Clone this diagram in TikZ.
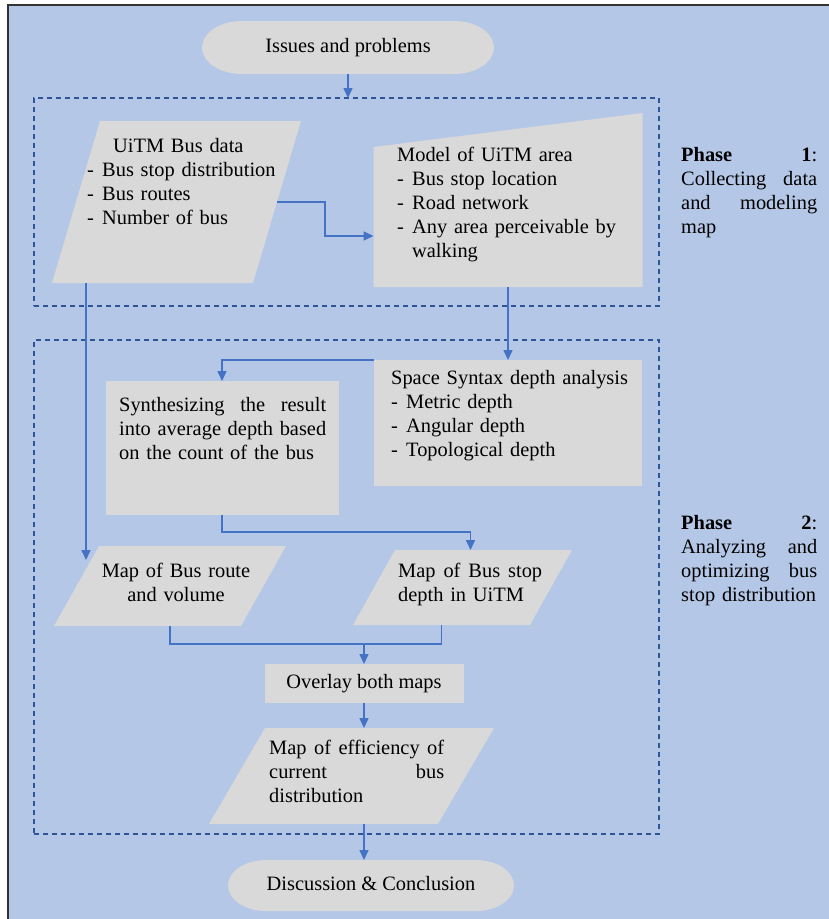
\documentclass[tikz,border=0pt]{standalone}
\usepackage{fontspec}
\setmainfont{Liberation Serif}
\usepackage{tikz}
\usetikzlibrary{calc,arrows.meta}
\pgfdeclarelayer{background}
\pgfsetlayers{background,main}

\definecolor{bgblue}{HTML}{B4C7E7}
\definecolor{boxgray}{HTML}{D9D9D9}
\definecolor{linkblue}{HTML}{4472C4}
\definecolor{frameblue}{HTML}{2F5597}

\newcommand{\fs}{\fontsize{20.4pt}{24pt}\selectfont\hyphenpenalty=10000}
\newcommand{\dashitem}[1]{\makebox[15pt][l]{-}#1}
\newcommand{\jline}[2]{\makebox[#1]{#2}}
\newcommand{\parafill}[2]{\fill[boxgray] ($(#1.north west)+(#2,0)$) -- (#1.north east) -- ($(#1.south east)+(-#2,0)$) -- (#1.south west) -- cycle;}
\newcommand{\termfill}[3]{\fill[boxgray] ($(#1.north west)+(#2,0)$) -- ($(#1.north east)+(-#2,0)$) arc[start angle=90,end angle=-90,x radius=#2pt,y radius=#3pt] -- ($(#1.south west)+(#2,0)$) arc[start angle=270,end angle=90,x radius=#2pt,y radius=#3pt] -- cycle;}

\begin{document}
\begin{tikzpicture}[x=1pt,y=-1pt,
  shapebox/.style={inner sep=0pt,outer sep=0pt},
  oneline/.style={font=\fs,text height=14.6pt,text depth=5.2pt},
  txt/.style={inner sep=0pt,anchor=base west,align=left,font=\fs},
  link/.style={draw=linkblue,line width=1.6pt},
  arr/.style={link,-{Triangle[length=10pt,width=9pt]}},
  phaseframe/.style={draw=frameblue,line width=1.1pt,dash pattern=on 5pt off 4pt,inner sep=0pt,outer sep=0pt}]
\useasboundingbox (0,0) rectangle (829,919);

% boxes
\node[shapebox,oneline,minimum width=292pt,minimum height=53pt] (issues) at (348,47.5) {Issues and problems};
\node[shapebox,minimum width=249pt,minimum height=162pt] (busdata) at (176.5,202) {};
\node[shapebox,minimum width=269pt,minimum height=174pt] (model) at (508,200) {};
\node[shapebox,minimum width=268pt,minimum height=126pt] (syntax) at (508,423) {};
\node[shapebox,minimum width=233pt,minimum height=134pt] (synth) at (222,448) {};
\node[shapebox,minimum width=232pt,minimum height=80pt] (route) at (170,586) {};
\node[shapebox,minimum width=219pt,minimum height=75pt] (depth) at (462.5,587.5) {};
\node[shapebox,oneline,minimum width=199pt,minimum height=39pt] (overlay) at (364,683.5) {Overlay both maps};
\node[shapebox,minimum width=285pt,minimum height=96pt] (effic) at (351.5,776) {};
\node[shapebox,oneline,minimum width=286pt,minimum height=51pt] (concl) at (371,885.5) {Discussion \& Conclusion};

\node[phaseframe,minimum width=625pt,minimum height=208pt] (phase1) at (346.5,202) {};
\node[phaseframe,minimum width=625pt,minimum height=494pt] (phase2) at (346.5,587) {};

% texts
\node[txt,text width=200pt] (busdatatxt) at (87,152) {\hspace*{26pt}UiTM Bus data\\\dashitem{Bus stop distribution}\\\dashitem{Bus routes}\\\dashitem{Number of bus}};
\node[txt,text width=230pt] (modeltxt) at (397,161) {Model of UiTM area\\\dashitem{Bus stop location}\\\dashitem{Road network}\\\dashitem{Any area perceivable by}\\\hspace*{15pt}walking};
\node[txt,text width=245pt] (syntaxtxt) at (391,384) {Space Syntax depth analysis\\\dashitem{Metric depth}\\\dashitem{Angular depth}\\\dashitem{Topological depth}};
\node[txt,text width=215pt] (synthtxt) at (119,411) {\jline{207pt}{Synthesizing\hfill the\hfill result}\\\jline{207pt}{into\hfill average\hfill depth\hfill based}\\on the count of the bus};
\node[txt,anchor=base,align=center,text width=170pt] (routetxt) at (176,577) {Map of Bus route\\and volume};
\node[txt,text width=160pt] (depthtxt) at (398,577) {\jline{144pt}{Map\hfill of\hfill Bus\hfill stop}\\depth in UiTM};
\node[txt,text width=185pt] (effictxt) at (269,754) {\jline{175pt}{Map\hfill of\hfill efficiency\hfill of}\\\jline{175pt}{current\hfill bus}\\distribution};
\node[txt,text width=146pt] (phase1txt) at (681,161) {\jline{136pt}{\textbf{Phase}\hfill\textbf{1}:}\\\jline{136pt}{Collecting\hfill data}\\\jline{136pt}{and\hfill modeling}\\map};
\node[txt,text width=146pt] (phase2txt) at (681,529) {\jline{136pt}{\textbf{Phase}\hfill\textbf{2}:}\\\jline{136pt}{Analyzing\hfill and}\\\jline{136pt}{optimizing\hfill bus}\\stop distribution};

\begin{pgfonlayer}{background}
\fill[white] (0,0) rectangle (829,919);
\fill[bgblue] (8,5) rectangle (829,919);
\draw[line width=1.5pt,black!80] (8,919) -- (8,5) -- (829,5);
\termfill{issues}{40}{26.5}
\parafill{busdata}{48}
\fill[boxgray] (model.south west) -- ($(model.north west)+(0,34)$) -- (model.north east) -- (model.south east) -- cycle;
\fill[boxgray] (syntax.north west) rectangle (syntax.south east);
\fill[boxgray] (synth.north west) rectangle (synth.south east);
\parafill{route}{45}
\parafill{depth}{42}
\fill[boxgray] (overlay.north west) rectangle (overlay.south east);
\parafill{effic}{56}
\termfill{concl}{38}{25.5}
\end{pgfonlayer}

% connectors
\coordinate (merge) at ($(route.south)+(0,18)$);
\coordinate (depthfoot) at ($(depth.south)+(-21,0)$);
\draw[arr] (issues.south) -- (issues.south |- phase1.north);
\draw[arr] ($(busdata.east)+(-24,0)$) -- ++(48,0) |- ($(model.west)+(0,36)$);
\draw[arr] (model.south) -- (syntax.north);
\draw[arr] (syntax.north west) -| (synth.north);
\draw[arr] ($(busdata.south west)+(34,0)$) -- ($(route.north west)+(32,14)$);
\draw[arr] (synth.south) -- ++(0,17) -| ($(depth.north)+(8,0)$);
\draw[link] (route.south) -- (merge) -- (merge -| depthfoot) -- (depthfoot);
\draw[arr] (merge -| overlay.north) -- (overlay.north);
\draw[arr] (overlay.south) -- (overlay.south |- effic.north);
\draw[arr] (overlay.south |- effic.south) -- (overlay.south |- concl.north);
\end{tikzpicture}
\end{document}
